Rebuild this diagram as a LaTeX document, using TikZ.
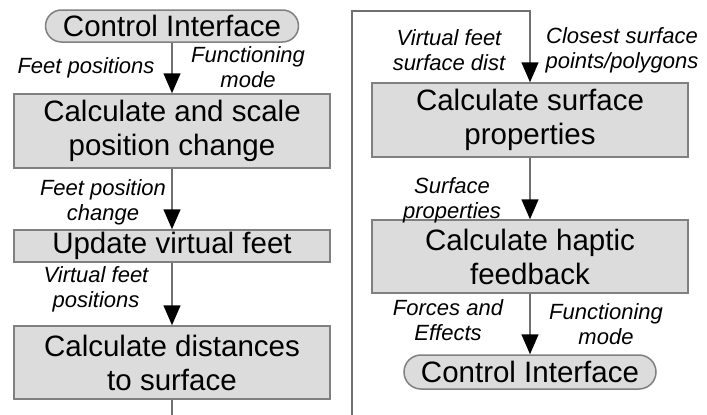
\documentclass[tikz,border=0pt]{standalone}
\usepackage{fontspec}
\setmainfont{Liberation Sans}
\usetikzlibrary{arrows.meta}
\definecolor{linegray}{HTML}{707070}
\definecolor{boxfill}{HTML}{DCDCDC}
\definecolor{boxdraw}{HTML}{808080}
\begin{document}
\begin{tikzpicture}[x=1pt,y=-1pt,
 box/.style={draw=boxdraw, fill=boxfill, line width=1.5pt, minimum width=316pt, inner sep=0pt, align=center, font=\fontsize{29.5}{34}\selectfont},
 pill/.style={box, rounded corners=16pt, minimum width=253pt, minimum height=32pt},
 lbl/.style={align=center, inner sep=0pt, font=\fontsize{22}{25}\selectfont\itshape},
 flow/.style={draw=linegray, line width=1.5pt},
 arr/.style={flow, -{Triangle[length=20pt,width=17pt,color=black]}}
]
\useasboundingbox (0,0) rectangle (707,415);
\node[pill] (ci1) at (172,26) {Control Interface};
\node[box, minimum height=74pt] (b1) at (172,131) {Calculate and scale\\position change};
\node[box, minimum height=32pt] (b2) at (172,246) {Update virtual feet};
\node[box, minimum height=73pt] (b3) at (172,362.5) {Calculate distances\\to surface};
\node[box, minimum height=74pt] (b4) at (530,120) {Calculate surface\\properties};
\node[box, minimum height=73pt] (b5) at (530,256.5) {Calculate haptic\\feedback};
\node[pill, minimum width=252pt, minimum height=34pt, rounded corners=17pt] (ci2) at (530,372) {Control Interface};

\node[lbl] (l1) at (86,68) {Feet positions};
\node[lbl] (l2) at (248,67) {Functioning\\mode};
\node[lbl] (l3) at (103,202) {Feet position\\change};
\node[lbl] (l4) at (96,289) {Virtual feet\\positions};
\node[lbl] (l5) at (449,50) {Virtual feet\\surface dist};
\node[lbl] (l6) at (622,50) {Closest surface\\points/polygons};
\node[lbl] (l7) at (452,200) {Surface\\properties};
\node[lbl] (l8) at (448,320) {Forces and\\Effects};
\node[lbl] (l9) at (606,324) {Functioning\\mode};

\draw[arr] (ci1.south) -- (b1.north);
\draw[arr] (b1.south) -- (b2.north);
\draw[arr] (b2.south) -- (b3.north);
\coordinate (out) at (172,415);
\draw[flow] (b3.south) -- (out);
\coordinate (in) at (352,415);
\coordinate (top) at (352,11);
\draw[arr] (in) -- (top) -| (b4.north);
\draw[arr] (b4.south) -- (b5.north);
\draw[arr] (b5.south) -- (ci2.north);
\end{tikzpicture}
\end{document}
